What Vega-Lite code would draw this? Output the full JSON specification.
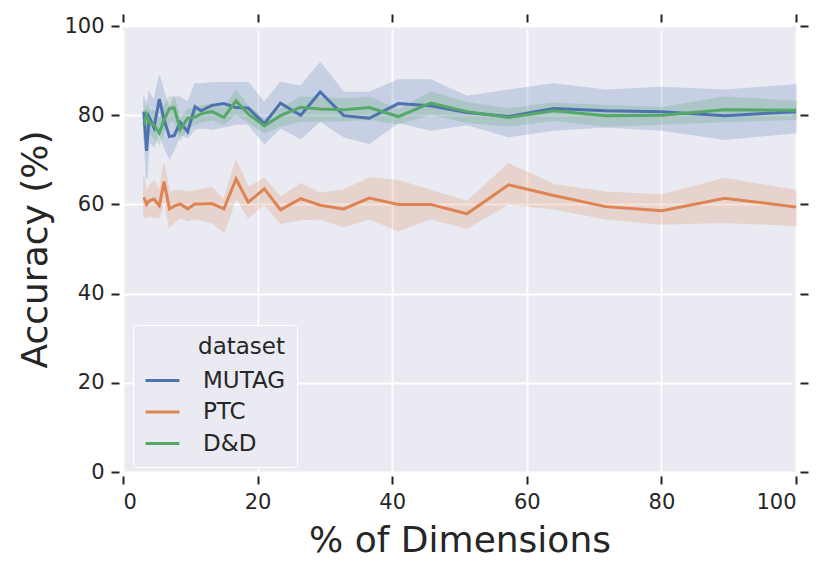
{
  "$schema": "https://vega.github.io/schema/vega-lite/v6.json",
  "width": 673,
  "height": 446,
  "autosize": {"type": "none"},
  "padding": {"left": 123, "top": 26, "right": 35, "bottom": 103},
  "background": "white",
  "config": {
    "font": "DejaVu Sans",
    "view": {"fill": "#EAEAF2", "stroke": null},
    "axis": {
      "domain": false,
      "tickColor": "#222222",
      "tickWidth": 2,
      "tickSize": 8,
      "offset": 4,
      "labelColor": "#262626",
      "labelFontSize": 21,
      "labelPadding": 7,
      "titleColor": "#262626",
      "titleFontSize": 36,
      "titleFontWeight": "normal",
      "gridColor": "white",
      "gridWidth": 1.8
    },
    "legend": {
      "orient": "none",
      "legendX": 10,
      "legendY": 299,
      "titleAnchor": "end",
      "titleFontSize": 23,
      "titleFontWeight": "normal",
      "titleColor": "#262626",
      "titlePadding": 3,
      "labelFontSize": 23,
      "labelColor": "#262626",
      "labelOffset": 22,
      "symbolType": "stroke",
      "symbolSize": 1150,
      "symbolStrokeWidth": 3,
      "symbolOpacity": 1,
      "rowPadding": 0.5,
      "padding": 11,
      "fillColor": "#EAEAF2",
      "strokeColor": "white",
      "cornerRadius": 3
    }
  },
  "data": {
    "values": [
      {"dataset": "MUTAG", "pct": 3.1, "acc": 80.8, "lo": 77.2, "hi": 84.0},
      {"dataset": "MUTAG", "pct": 3.5, "acc": 72.0, "lo": 65.7, "hi": 80.0},
      {"dataset": "MUTAG", "pct": 3.9, "acc": 79.5, "lo": 74.3, "hi": 85.1},
      {"dataset": "MUTAG", "pct": 4.6, "acc": 77.2, "lo": 73.0, "hi": 83.0},
      {"dataset": "MUTAG", "pct": 5.4, "acc": 83.6, "lo": 76.5, "hi": 88.8},
      {"dataset": "MUTAG", "pct": 6.1, "acc": 79.0, "lo": 73.0, "hi": 85.0},
      {"dataset": "MUTAG", "pct": 6.9, "acc": 75.2, "lo": 70.4, "hi": 81.4},
      {"dataset": "MUTAG", "pct": 7.6, "acc": 75.4, "lo": 72.4, "hi": 84.0},
      {"dataset": "MUTAG", "pct": 8.5, "acc": 78.4, "lo": 75.8, "hi": 84.0},
      {"dataset": "MUTAG", "pct": 9.6, "acc": 76.3, "lo": 75.0, "hi": 82.8},
      {"dataset": "MUTAG", "pct": 10.7, "acc": 81.9, "lo": 76.9, "hi": 87.0},
      {"dataset": "MUTAG", "pct": 11.6, "acc": 81.0, "lo": 77.2, "hi": 87.0},
      {"dataset": "MUTAG", "pct": 13.2, "acc": 82.2, "lo": 76.9, "hi": 87.3},
      {"dataset": "MUTAG", "pct": 15.0, "acc": 82.6, "lo": 77.4, "hi": 87.3},
      {"dataset": "MUTAG", "pct": 16.8, "acc": 81.7, "lo": 78.0, "hi": 87.3},
      {"dataset": "MUTAG", "pct": 18.6, "acc": 81.6, "lo": 78.0, "hi": 87.3},
      {"dataset": "MUTAG", "pct": 21.0, "acc": 78.1, "lo": 73.7, "hi": 82.8},
      {"dataset": "MUTAG", "pct": 23.4, "acc": 82.7, "lo": 77.2, "hi": 87.3},
      {"dataset": "MUTAG", "pct": 26.4, "acc": 80.0, "lo": 74.8, "hi": 86.5},
      {"dataset": "MUTAG", "pct": 29.3, "acc": 85.2, "lo": 78.7, "hi": 91.7},
      {"dataset": "MUTAG", "pct": 32.8, "acc": 79.9, "lo": 75.2, "hi": 85.1},
      {"dataset": "MUTAG", "pct": 36.6, "acc": 79.3, "lo": 73.7, "hi": 85.1},
      {"dataset": "MUTAG", "pct": 40.9, "acc": 82.6, "lo": 78.4, "hi": 87.9},
      {"dataset": "MUTAG", "pct": 45.7, "acc": 82.1, "lo": 76.7, "hi": 87.9},
      {"dataset": "MUTAG", "pct": 51.1, "acc": 80.6, "lo": 77.9, "hi": 84.2},
      {"dataset": "MUTAG", "pct": 57.3, "acc": 79.7, "lo": 75.2, "hi": 85.6},
      {"dataset": "MUTAG", "pct": 64.0, "acc": 81.5, "lo": 76.7, "hi": 87.0},
      {"dataset": "MUTAG", "pct": 71.7, "acc": 81.0, "lo": 77.4, "hi": 85.6},
      {"dataset": "MUTAG", "pct": 80.1, "acc": 80.8, "lo": 76.7, "hi": 86.2},
      {"dataset": "MUTAG", "pct": 89.4, "acc": 79.9, "lo": 74.6, "hi": 85.6},
      {"dataset": "MUTAG", "pct": 100, "acc": 80.8, "lo": 76.1, "hi": 86.8},
      {"dataset": "PTC", "pct": 3.1, "acc": 61.6, "lo": 57.3, "hi": 66.2},
      {"dataset": "PTC", "pct": 3.5, "acc": 60.0, "lo": 57.1, "hi": 62.7},
      {"dataset": "PTC", "pct": 3.9, "acc": 60.8, "lo": 57.5, "hi": 64.0},
      {"dataset": "PTC", "pct": 4.6, "acc": 61.2, "lo": 57.1, "hi": 65.3},
      {"dataset": "PTC", "pct": 5.4, "acc": 59.7, "lo": 57.0, "hi": 63.0},
      {"dataset": "PTC", "pct": 6.1, "acc": 65.1, "lo": 61.6, "hi": 69.0},
      {"dataset": "PTC", "pct": 6.9, "acc": 59.0, "lo": 54.9, "hi": 62.7},
      {"dataset": "PTC", "pct": 7.6, "acc": 59.6, "lo": 56.0, "hi": 63.0},
      {"dataset": "PTC", "pct": 8.5, "acc": 60.1, "lo": 57.1, "hi": 63.1},
      {"dataset": "PTC", "pct": 9.6, "acc": 59.0, "lo": 56.4, "hi": 62.7},
      {"dataset": "PTC", "pct": 10.7, "acc": 60.1, "lo": 56.8, "hi": 63.0},
      {"dataset": "PTC", "pct": 11.6, "acc": 60.1, "lo": 56.5, "hi": 63.3},
      {"dataset": "PTC", "pct": 13.2, "acc": 60.2, "lo": 56.0, "hi": 63.7},
      {"dataset": "PTC", "pct": 15.0, "acc": 59.0, "lo": 53.8, "hi": 61.0},
      {"dataset": "PTC", "pct": 16.8, "acc": 65.7, "lo": 61.6, "hi": 69.8},
      {"dataset": "PTC", "pct": 18.6, "acc": 60.5, "lo": 57.1, "hi": 63.8},
      {"dataset": "PTC", "pct": 21.0, "acc": 63.5, "lo": 60.1, "hi": 65.7},
      {"dataset": "PTC", "pct": 23.4, "acc": 58.8, "lo": 55.8, "hi": 61.6},
      {"dataset": "PTC", "pct": 26.4, "acc": 61.3, "lo": 56.6, "hi": 64.6},
      {"dataset": "PTC", "pct": 29.3, "acc": 59.8, "lo": 56.8, "hi": 62.5},
      {"dataset": "PTC", "pct": 32.8, "acc": 59.0, "lo": 55.0, "hi": 63.2},
      {"dataset": "PTC", "pct": 36.6, "acc": 61.4, "lo": 56.8, "hi": 65.9},
      {"dataset": "PTC", "pct": 40.9, "acc": 60.0, "lo": 54.1, "hi": 65.3},
      {"dataset": "PTC", "pct": 45.7, "acc": 60.0, "lo": 56.8, "hi": 63.1},
      {"dataset": "PTC", "pct": 51.1, "acc": 57.9, "lo": 54.7, "hi": 60.6},
      {"dataset": "PTC", "pct": 57.3, "acc": 64.4, "lo": 60.1, "hi": 69.1},
      {"dataset": "PTC", "pct": 64.0, "acc": 62.0, "lo": 59.0, "hi": 64.4},
      {"dataset": "PTC", "pct": 71.7, "acc": 59.5, "lo": 56.8, "hi": 62.7},
      {"dataset": "PTC", "pct": 80.1, "acc": 58.6, "lo": 55.6, "hi": 62.1},
      {"dataset": "PTC", "pct": 89.4, "acc": 61.4, "lo": 56.0, "hi": 65.8},
      {"dataset": "PTC", "pct": 100, "acc": 59.4, "lo": 55.3, "hi": 63.1},
      {"dataset": "D&D", "pct": 3.1, "acc": 77.8, "lo": 74.5, "hi": 80.5},
      {"dataset": "D&D", "pct": 3.5, "acc": 80.1, "lo": 77.0, "hi": 83.0},
      {"dataset": "D&D", "pct": 3.9, "acc": 78.4, "lo": 76.0, "hi": 81.0},
      {"dataset": "D&D", "pct": 4.6, "acc": 77.8, "lo": 75.0, "hi": 81.0},
      {"dataset": "D&D", "pct": 5.4, "acc": 76.0, "lo": 73.5, "hi": 79.0},
      {"dataset": "D&D", "pct": 6.1, "acc": 79.0, "lo": 76.5, "hi": 82.0},
      {"dataset": "D&D", "pct": 6.9, "acc": 81.5, "lo": 78.5, "hi": 84.0},
      {"dataset": "D&D", "pct": 7.6, "acc": 81.7, "lo": 79.0, "hi": 84.0},
      {"dataset": "D&D", "pct": 8.5, "acc": 76.8, "lo": 74.5, "hi": 79.0},
      {"dataset": "D&D", "pct": 9.6, "acc": 79.3, "lo": 77.3, "hi": 81.3},
      {"dataset": "D&D", "pct": 10.7, "acc": 79.6, "lo": 78.0, "hi": 81.5},
      {"dataset": "D&D", "pct": 11.6, "acc": 80.3, "lo": 78.5, "hi": 82.0},
      {"dataset": "D&D", "pct": 13.2, "acc": 80.8, "lo": 79.0, "hi": 82.5},
      {"dataset": "D&D", "pct": 15.0, "acc": 79.5, "lo": 78.0, "hi": 81.5},
      {"dataset": "D&D", "pct": 16.8, "acc": 83.2, "lo": 80.2, "hi": 85.5},
      {"dataset": "D&D", "pct": 18.6, "acc": 80.3, "lo": 78.5, "hi": 82.0},
      {"dataset": "D&D", "pct": 21.0, "acc": 77.6, "lo": 76.1, "hi": 79.1},
      {"dataset": "D&D", "pct": 23.4, "acc": 79.9, "lo": 77.6, "hi": 81.4},
      {"dataset": "D&D", "pct": 26.4, "acc": 81.8, "lo": 78.7, "hi": 84.0},
      {"dataset": "D&D", "pct": 29.3, "acc": 81.4, "lo": 78.7, "hi": 83.9},
      {"dataset": "D&D", "pct": 32.8, "acc": 81.2, "lo": 78.8, "hi": 83.6},
      {"dataset": "D&D", "pct": 36.6, "acc": 81.7, "lo": 79.1, "hi": 84.0},
      {"dataset": "D&D", "pct": 40.9, "acc": 79.7, "lo": 78.1, "hi": 81.1},
      {"dataset": "D&D", "pct": 45.7, "acc": 82.7, "lo": 80.2, "hi": 85.2},
      {"dataset": "D&D", "pct": 51.1, "acc": 80.8, "lo": 78.4, "hi": 82.8},
      {"dataset": "D&D", "pct": 57.3, "acc": 79.5, "lo": 77.6, "hi": 81.4},
      {"dataset": "D&D", "pct": 64.0, "acc": 81.0, "lo": 78.9, "hi": 82.7},
      {"dataset": "D&D", "pct": 71.7, "acc": 79.9, "lo": 77.6, "hi": 82.1},
      {"dataset": "D&D", "pct": 80.1, "acc": 80.0, "lo": 78.0, "hi": 81.7},
      {"dataset": "D&D", "pct": 89.4, "acc": 81.2, "lo": 78.6, "hi": 84.0},
      {"dataset": "D&D", "pct": 100, "acc": 81.1, "lo": 79.1, "hi": 83.1}
    ]
  },
  "layer": [
    {
      "mark": {"type": "area", "opacity": 0.22, "strokeWidth": 1.5},
      "encoding": {
        "x": {
          "field": "pct",
          "type": "quantitative",
          "scale": {"domain": [0, 100], "nice": false},
          "axis": {
            "orient": "bottom",
            "values": [0, 20, 40, 60, 80, 100],
            "title": "% of Dimensions",
            "titlePadding": 11
          }
        },
        "y": {
          "field": "lo",
          "type": "quantitative",
          "scale": {"domain": [0, 100], "nice": false},
          "axis": {
            "orient": "left",
            "values": [0, 20, 40, 60, 80, 100],
            "title": "Accuracy (%)",
            "titlePadding": 9
          }
        },
        "y2": {"field": "hi"},
        "color": {
          "field": "dataset",
          "type": "nominal",
          "scale": {"domain": ["MUTAG", "PTC", "D&D"], "range": ["#4C72B0", "#DD8452", "#55A868"]},
          "legend": {"title": "dataset"}
        },
        "stroke": {
          "field": "dataset",
          "type": "nominal",
          "scale": {"domain": ["MUTAG", "PTC", "D&D"], "range": ["#4C72B0", "#DD8452", "#55A868"]},
          "legend": null
        }
      }
    },
    {
      "mark": {"type": "line", "strokeWidth": 3},
      "encoding": {
        "x": {
          "field": "pct",
          "type": "quantitative",
          "axis": {"orient": "top", "values": [0, 20, 40, 60, 80, 100], "labels": false, "title": null, "grid": false}
        },
        "y": {
          "field": "acc",
          "type": "quantitative",
          "axis": {"orient": "right", "values": [0, 20, 40, 60, 80, 100], "labels": false, "title": null, "grid": false}
        },
        "color": {
          "field": "dataset",
          "type": "nominal",
          "scale": {"domain": ["MUTAG", "PTC", "D&D"], "range": ["#4C72B0", "#DD8452", "#55A868"]},
          "legend": {"title": "dataset"}
        }
      }
    }
  ],
  "resolve": {"axis": {"x": "independent", "y": "independent"}}
}
